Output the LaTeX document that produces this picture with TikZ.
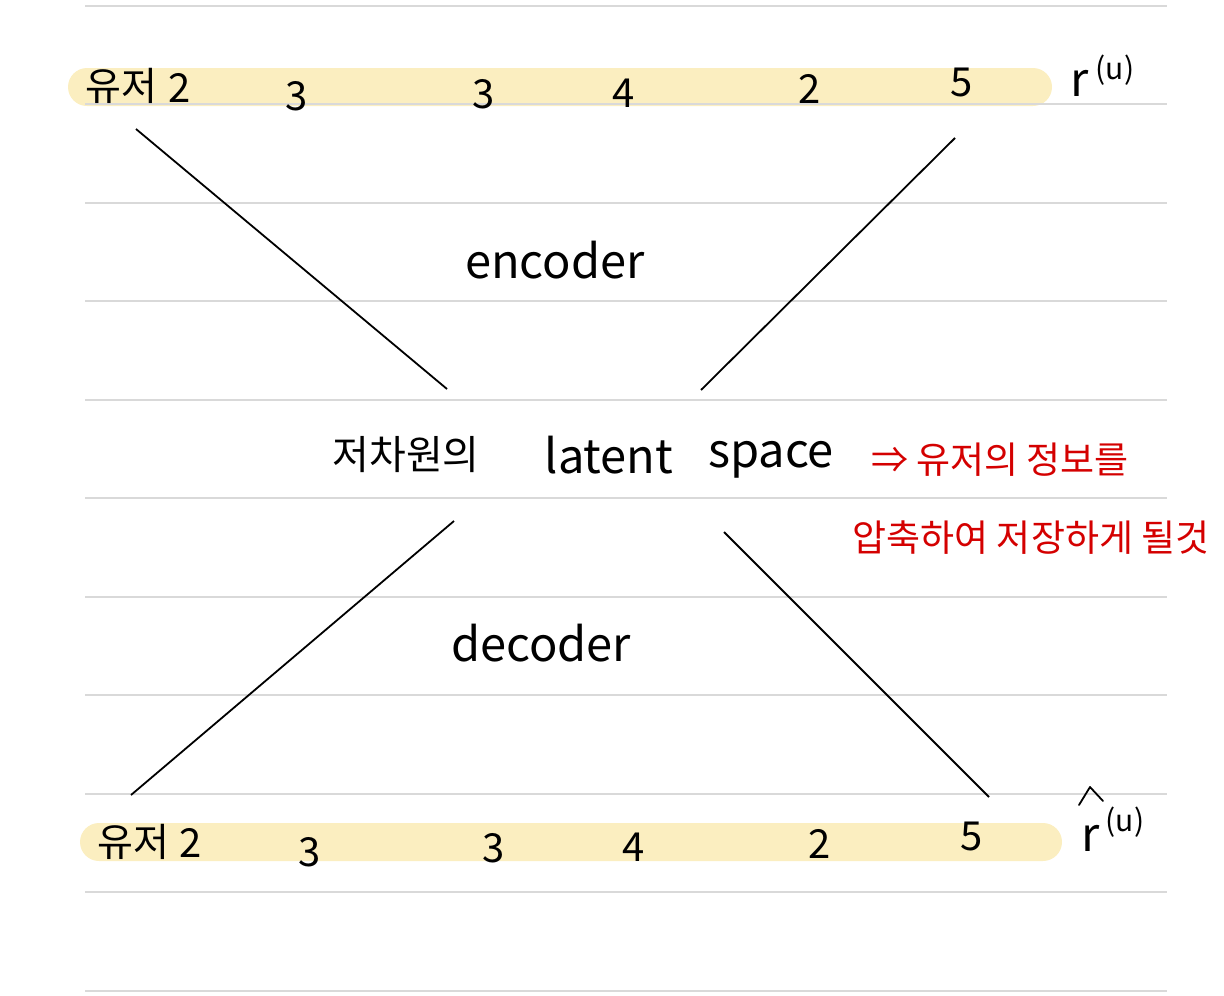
\documentclass[tikz,border=0pt]{standalone}
\usepackage{fontspec}
\setmainfont{Noto Sans CJK KR}
\definecolor{rulegray}{HTML}{D9D9D9}
\definecolor{barfill}{HTML}{FBEEC0}
\definecolor{redink}{HTML}{D40000}
\begin{document}
\begin{tikzpicture}[x=1pt,y=-1pt,
  rule/.style={draw=rulegray,line width=2.5pt},
  bar/.style={fill=barfill,rounded corners=19pt},
  conn/.style={draw=black,line width=1.8pt},
  num/.style={font=\fontsize{40}{40}\selectfont,inner sep=0pt},
  kor/.style={font=\fontsize{39}{39}\selectfont,inner sep=0pt},
  big/.style={font=\fontsize{47}{47}\selectfont,inner sep=0pt},
  red/.style={font=\fontsize{37}{37}\selectfont,text=redink,inner sep=0pt},
  sup/.style={font=\fontsize{30}{30}\selectfont,inner sep=0pt}]
\useasboundingbox (0,0) rectangle (1224,996);
% highlight bars
\fill[bar] (68,68) rectangle (1052,106);
\fill[bar] (80,823) rectangle (1062,861);
% ruled lines
\foreach \y in {6,104,203,301,400,498,597,695,794,892,991}
  \draw[rule] (85,\y) -- (1167,\y);
% top row
\node[kor] (tu) at (121,86) {유저};
\node[num] (t0) at (180,88) {2};
\node[num] (t1) at (297,96) {3};
\node[num] (t2) at (484,94) {3};
\node[num] (t3) at (624,93) {4};
\node[num] (t4) at (810,89) {2};
\node[num] (t5) at (962,82) {5};
\node[big] (tr) at (1080,83) {r};
\node[sup] (trs) at (1115,70) {(u)};
% bottom row
\node[kor] (bu) at (133,842) {유저};
\node[num] (b0) at (191,843) {2};
\node[num] (b1) at (310,852) {3};
\node[num] (b2) at (494,848) {3};
\node[num] (b3) at (634,847) {4};
\node[num] (b4) at (820,844) {2};
\node[num] (b5) at (972,836) {5};
\node[big] (br) at (1091,838) {r};
\node[sup] (brs) at (1125,822) {(u)};
\coordinate (hl) at (1079,805);
\coordinate (ht) at (1090,787);
\coordinate (hr) at (1103,801);
\draw[conn,line cap=round,line join=round] (hl) -- (ht) -- (hr);
% middle texts
\node[big] (enc) at (555,260) {encoder};
\node[big] (dec) at (541,643) {decoder};
\node[kor,font=\fontsize{40}{40}\selectfont] (low) at (406,455) {저차원의};
\node[big] (lat) at (609,455) {latent};
\node[big] (spa) at (771,460) {space};
\node[red] (r1) at (1000,460) {⇒ 유저의 정보를};
\node[red] (r2) at (1031,538) {압축하여 저장하게 될것};
% connectors
\coordinate (a1) at (136,129);
\coordinate (a2) at (447,389);
\coordinate (b1c) at (955,138);
\coordinate (b2c) at (701,390);
\coordinate (c1) at (454,521);
\coordinate (c2) at (131,795);
\coordinate (d1) at (724,532);
\coordinate (d2) at (989,797);
\draw[conn] (a1) -- (a2);
\draw[conn] (b1c) -- (b2c);
\draw[conn] (c1) -- (c2);
\draw[conn] (d1) -- (d2);
\end{tikzpicture}
\end{document}
